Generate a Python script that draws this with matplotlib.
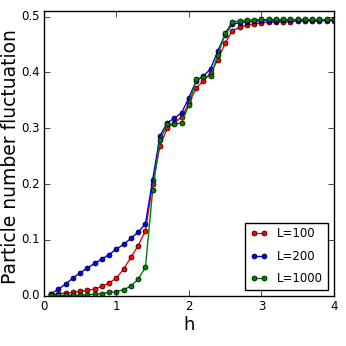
import numpy as np
import matplotlib
matplotlib.use("Agg")
import matplotlib.pyplot as plt

plt.style.use("classic")

h = np.round(np.arange(1, 41) * 0.1, 1)

fluct_L100 = [0.003, 0.004, 0.005, 0.006, 0.008, 0.010, 0.012, 0.017, 0.023, 0.032,
              0.048, 0.069, 0.090, 0.116, 0.200, 0.268, 0.300, 0.310, 0.320, 0.345,
              0.372, 0.385, 0.399, 0.423, 0.453, 0.475, 0.481, 0.485, 0.487, 0.489,
              0.490, 0.490, 0.491, 0.491, 0.492, 0.492, 0.492, 0.492, 0.493, 0.493]
fluct_L200 = [0.004, 0.012, 0.021, 0.032, 0.041, 0.050, 0.058, 0.066, 0.074, 0.084,
              0.092, 0.103, 0.114, 0.129, 0.208, 0.286, 0.310, 0.318, 0.328, 0.355,
              0.385, 0.393, 0.407, 0.439, 0.468, 0.487, 0.489, 0.491, 0.492, 0.493,
              0.493, 0.493, 0.494, 0.494, 0.494, 0.494, 0.494, 0.494, 0.494, 0.494]
fluct_L1000 = [0.001, 0.001, 0.001, 0.001, 0.0015, 0.002, 0.003, 0.004, 0.006, 0.0075,
               0.011, 0.0175, 0.030, 0.051, 0.189, 0.279, 0.307, 0.307, 0.310, 0.342,
               0.388, 0.392, 0.393, 0.432, 0.470, 0.491, 0.492, 0.494, 0.494, 0.495,
               0.495, 0.495, 0.495, 0.495, 0.495, 0.495, 0.495, 0.495, 0.495, 0.495]

fig = plt.figure(figsize=(3.46, 3.46), dpi=100)
ax = fig.add_axes([0.127, 0.145, 0.838, 0.823])

ax.plot(h, fluct_L100, "r-o", ms=3.6, mew=0.5, lw=1, label="L=100")
ax.plot(h, fluct_L200, "b-o", ms=3.6, mew=0.5, lw=1, label="L=200")
ax.plot(h, fluct_L1000, "g-o", ms=3.6, mew=0.5, lw=1, label="L=1000")

ax.set_xlim(0, 4)
ax.set_ylim(0, 0.51)
ax.set_xticks([0, 1, 2, 3, 4])
ax.set_yticks([0.0, 0.1, 0.2, 0.3, 0.4, 0.5])
ax.tick_params(labelsize=8.5, pad=3)
ax.set_xlabel("h", fontsize=13, labelpad=2)
ax.set_ylabel("Particle number fluctuation", fontsize=13.5)
ax.yaxis.set_label_coords(-0.082, 0.49)
ax.legend(loc="lower right", fontsize=8.5, numpoints=2, handlelength=1.5,
          labelspacing=0.8, borderaxespad=0.5)

fig.savefig("out.png", dpi=100)
